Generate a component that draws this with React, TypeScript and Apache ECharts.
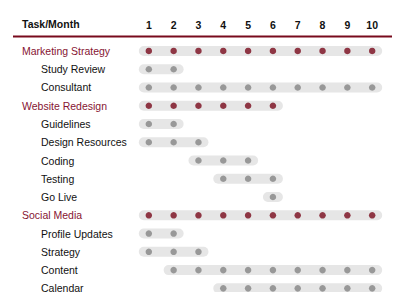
import React, { useEffect, useRef } from "react";
import * as echarts from "echarts";

const tasks = [
  "Marketing Strategy",
  "Study Review",
  "Consultant",
  "Website Redesign",
  "Guidelines",
  "Design Resources",
  "Coding",
  "Testing",
  "Go Live",
  "Social Media",
  "Profile Updates",
  "Strategy",
  "Content",
  "Calendar",
];
const isGroup = [true, false, false, true, false, false, false, false, false, true, false, false, false, false];
const startMonth = [1, 1, 1, 1, 1, 1, 3, 4, 6, 1, 1, 1, 2, 4];
const endMonth = [10, 2, 10, 6, 2, 3, 5, 6, 6, 10, 2, 3, 10, 10];
const months = [1, 2, 3, 4, 5, 6, 7, 8, 9, 10];

const MAROON = "#780a1c";
const MAROON_TEXT = "#861432";

export default function App() {
  const ref = useRef<HTMLDivElement>(null);
  useEffect(() => {
    const chart = echarts.init(ref.current!, null, { renderer: "svg" });
    const barData = tasks.map((_, i) => [startMonth[i], endMonth[i], i]);
    const groupDots: number[][] = [];
    const taskDots: number[][] = [];
    tasks.forEach((_, i) => {
      for (const m of months) {
        if (m >= startMonth[i] && m <= endMonth[i]) {
          (isGroup[i] ? groupDots : taskDots).push([m, i]);
        }
      }
    });
    chart.setOption({
      animation: false,
      title: {
        text: "Task/Month",
        left: 17,
        top: 13,
        textStyle: { fontFamily: "Liberation Sans", fontSize: 10.5, fontWeight: "bold", color: "#111" },
      },
      grid: { left: 124, right: 1, top: 41.8, bottom: 2.5 },
      xAxis: {
        type: "value",
        position: "top",
        min: 0,
        max: 11,
        interval: 1,
        axisLine: { show: false },
        axisTick: { show: false },
        splitLine: { show: false },
        axisLabel: {
          margin: 11,
          fontFamily: "Liberation Sans",
          fontSize: 10.5,
          fontWeight: "bold",
          color: "#111",
          formatter: (v: number) => (months.includes(v) ? String(v) : ""),
        },
      },
      yAxis: {
        type: "category",
        inverse: true,
        data: tasks,
        axisLine: { show: false },
        axisTick: { show: false },
        axisLabel: {
          margin: 102,
          align: "left",
          formatter: (v: string) => {
            const i = tasks.indexOf(v);
            return isGroup[i] ? `{g|${v}}` : `{t|${v}}`;
          },
          rich: {
            g: { color: MAROON_TEXT, fontFamily: "Liberation Sans", fontSize: 10.5 },
            t: { color: "#111", fontFamily: "Liberation Sans", fontSize: 10.5, padding: [0, 0, 0, 19] },
          },
        },
      },
      graphic: [
        {
          type: "line",
          shape: { x1: 13, y1: 36.5, x2: 392, y2: 36.5 },
          style: { stroke: MAROON, lineWidth: 2 },
        },
      ],
      series: [
        {
          type: "custom",
          data: barData,
          encode: { x: [0, 1], y: 2 },
          renderItem: (params: any, api: any) => {
            const s = api.coord([api.value(0), api.value(2)]);
            const e = api.coord([api.value(1), api.value(2)]);
            const h = 10;
            return {
              type: "rect",
              shape: { x: s[0] - 10, y: s[1] - h / 2, width: e[0] - s[0] + 20, height: h, r: h / 2 },
              style: { fill: "#e6e6e6" },
            };
          },
          z: 1,
        },
        {
          type: "scatter",
          data: taskDots,
          symbolSize: 6.5,
          itemStyle: { color: "#858585" },
          z: 2,
        },
        {
          type: "scatter",
          data: groupDots,
          symbolSize: 6.5,
          itemStyle: { color: MAROON },
          z: 2,
        },
      ],
    });
    return () => chart.dispose();
  }, []);
  return <div ref={ref} style={{ width: 400, height: 300, margin: -8 }} />;
}
